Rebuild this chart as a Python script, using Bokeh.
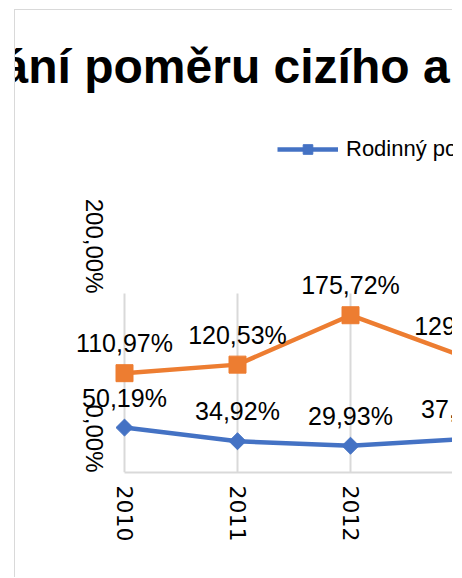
import math
from bokeh.plotting import figure
from bokeh.models import (ColumnDataSource, Range1d, FixedTicker, LabelSet,
                          Legend, LegendItem, Title)
from bokeh.core.properties import value
from bokeh.embed import file_html
from bokeh.resources import INLINE

# ---- data ----
years = [2010, 2011, 2012, 2013]
rodinny = [50.19, 34.92, 29.93, 37.48]
nerodinny = [110.97, 120.53, 175.72, 129.64]
y_ticks = [0, 200]
y_tick_labels = ["0,00%", "200,00%"]
title_text = "ání poměru cizího a"
legend_label = "Rodinný podnik"

def fmt(v):
    return ("%.2f" % v).replace(".", ",") + "%"

BLUE = "#4472C4"
ORANGE = "#ED7D31"
GRID = "#d9d9d9"

src_b = ColumnDataSource(dict(x=years, y=rodinny, lbl=[fmt(v) for v in rodinny]))
src_o = ColumnDataSource(dict(x=years, y=nerodinny, lbl=[fmt(v) for v in nerodinny]))
grid_src = ColumnDataSource(dict(x=years, y0=[y_ticks[0]] * len(years),
                                 y1=[y_ticks[-1]] * len(years)))

# geometry (page pixels)
CANVAS_L, CANVAS_T, CANVAS_W, CANVAS_H = 15, 10, 438, 568
FRAME_L, FRAME_T, FRAME_B = 60, 100, 472
X0_PX, PX_PER_YEAR = 124, 113.0
Y200_PX = 293

x_start = years[0] - (X0_PX - FRAME_L) / PX_PER_YEAR
x_end = x_start + (CANVAS_L + CANVAS_W - FRAME_L) / PX_PER_YEAR
y_end = 200.0 * (FRAME_B - FRAME_T) / (FRAME_B - Y200_PX)

p = figure(width=CANVAS_W, height=CANVAS_H, output_backend="svg", toolbar_location=None,
           x_range=Range1d(x_start, x_end), y_range=Range1d(0, y_end),
           min_border_left=FRAME_L - CANVAS_L, min_border_right=0,
           min_border_top=FRAME_T - CANVAS_T,
           min_border_bottom=CANVAS_T + CANVAS_H - FRAME_B,
           styles={"border-top": "1px solid #d9d9d9", "border-left": "1px solid #d9d9d9",
                   "margin-left": "14px", "margin-top": "9px"})
p.outline_line_color = None
p.background_fill_color = "white"
p.border_fill_color = "white"

p.add_layout(Title(text=title_text, text_font="Liberation Sans", text_font_style="bold",
                   text_font_size="48px", text_color="#000000", align="left",
                   offset=1.0 - FRAME_L, standoff=16), "above")

# axes
p.xaxis.ticker = FixedTicker(ticks=years)
p.xaxis.major_label_overrides = {y: str(y) for y in years}
p.xaxis.major_label_orientation = -math.pi / 2
p.xaxis.major_label_text_font = "DejaVu Sans"
p.xaxis.major_label_text_font_size = "22px"
p.xaxis.major_label_text_color = "#000000"
p.xaxis.major_tick_line_color = None
p.xaxis.minor_tick_line_color = None
p.xaxis.major_tick_out = 0
p.xaxis.major_label_standoff = 13
p.xaxis.axis_line_color = GRID
p.xaxis.axis_line_width = 2
p.xaxis.bounds = (years[0], x_end)

p.yaxis.ticker = FixedTicker(ticks=y_ticks)
p.yaxis.major_label_overrides = dict(zip(y_ticks, y_tick_labels))
p.yaxis.major_label_orientation = -math.pi / 2
p.yaxis.major_label_text_font = "Liberation Sans"
p.yaxis.major_label_text_font_size = "24px"
p.yaxis.major_label_text_color = "#000000"
p.yaxis.major_tick_line_color = None
p.yaxis.minor_tick_line_color = None
p.yaxis.major_tick_out = 0
p.yaxis.major_label_standoff = 20
p.yaxis.axis_line_color = None
p.yaxis.fixed_location = x_start + (114 - FRAME_L) / PX_PER_YEAR

p.xgrid.grid_line_color = None
p.ygrid.grid_line_color = None

# category grid lines from 0 % to 200 %
p.segment("x", "y0", "x", "y1", source=grid_src, line_color=GRID, line_width=2)

# series
lb = p.line("x", "y", source=src_b, line_color=BLUE, line_width=4.5)
sb = p.scatter("x", "y", source=src_b, marker="square", angle=math.pi / 4, size=12,
               fill_color=BLUE, line_color=BLUE)
lo = p.line("x", "y", source=src_o, line_color=ORANGE, line_width=4.5)
so = p.scatter("x", "y", source=src_o, marker="square", size=17,
               fill_color=ORANGE, line_color=ORANGE)

for src in (src_b, src_o):
    p.add_layout(LabelSet(x="x", y="y", text="lbl", source=src, y_offset=21,
                          text_align="center", text_baseline="alphabetic",
                          text_font=value("Liberation Sans"), text_font_size=value("25px"),
                          text_color="#000000"))

legend = Legend(items=[LegendItem(label=legend_label, renderers=[lb, sb])],
                location=(277 - FRAME_L, FRAME_B - 162), orientation="horizontal",
                glyph_width=61, glyph_height=24, label_standoff=8,
                padding=0, margin=0, border_line_color=None,
                background_fill_alpha=0,
                label_text_font="Liberation Sans", label_text_font_size="22px",
                label_text_color="#000000")
p.add_layout(legend)

open("out.html", "w").write(file_html(p, INLINE))
